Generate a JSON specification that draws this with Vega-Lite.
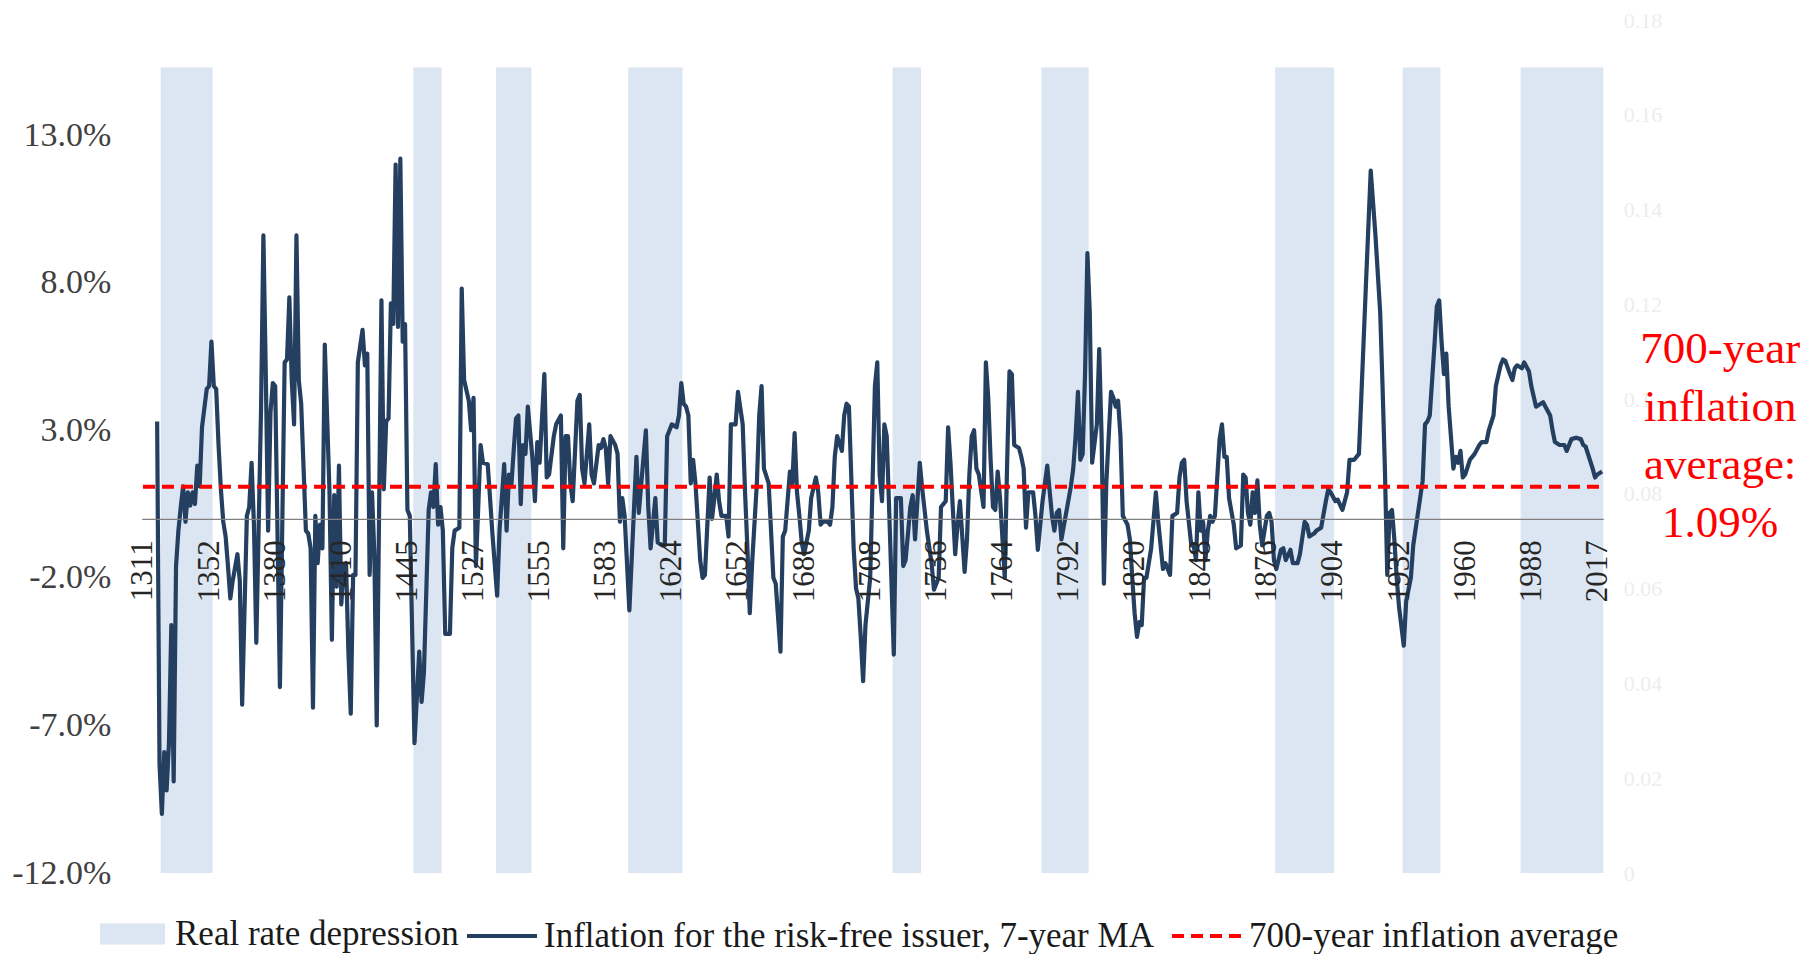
{
"$schema":"https://vega.github.io/schema/vega-lite/v6.json",
"width":1461.5,"height":853,
"autosize":{"type":"none"},
"padding":{"left":141.8,"top":20,"right":204.7,"bottom":81},
"background":"white",
"config":{"view":{"stroke":null},"font":"Liberation Serif","axis":{"grid":false,"title":null}},
"datasets":{
"bands":[{"start":7.5,"end":29.5,"h":0.17},{"start":114.5,"end":126.5,"h":0.17},{"start":149.5,"end":164.5,"h":0.17},{"start":205.5,"end":228.5,"h":0.17},{"start":317.5,"end":329.5,"h":0.17},{"start":380.5,"end":400.5,"h":0.17},{"start":479.5,"end":504.5,"h":0.17},{"start":533.5,"end":549.5,"h":0.17},{"start":583.5,"end":618.5,"h":0.17}],
"series":[{"i":6,"v":3.3},{"i":7,"v":-8.3},{"i":8,"v":-10.0},{"i":9,"v":-7.9},{"i":10,"v":-9.2},{"i":11,"v":-7.6},{"i":12,"v":-3.6},{"i":13,"v":-8.9},{"i":14,"v":-1.6},{"i":15,"v":-0.4},{"i":16,"v":0.4},{"i":17,"v":1.1},{"i":18,"v":-0.1},{"i":19,"v":0.9},{"i":20,"v":0.45},{"i":21,"v":0.9},{"i":22,"v":0.5},{"i":23,"v":1.8},{"i":24,"v":1.1},{"i":25,"v":3.1},{"i":27,"v":4.4},{"i":28,"v":4.5},{"i":29,"v":6.0},{"i":30,"v":4.5},{"i":31,"v":4.4},{"i":32,"v":2.5},{"i":33,"v":1.0},{"i":34,"v":-0.1},{"i":35,"v":-0.6},{"i":36,"v":-1.6},{"i":37,"v":-2.7},{"i":38,"v":-2.1},{"i":40,"v":-1.2},{"i":41,"v":-2.1},{"i":42,"v":-6.3},{"i":44,"v":0.1},{"i":45,"v":0.4},{"i":46,"v":1.9},{"i":47,"v":-0.2},{"i":48,"v":-4.2},{"i":50,"v":3.7},{"i":51,"v":9.6},{"i":52,"v":5.0},{"i":53,"v":-0.4},{"i":54,"v":3.6},{"i":55,"v":4.6},{"i":56,"v":4.5},{"i":58,"v":-5.7},{"i":60,"v":5.3},{"i":61,"v":5.4},{"i":62,"v":7.5},{"i":63,"v":4.7},{"i":64,"v":3.2},{"i":65,"v":9.6},{"i":66,"v":4.7},{"i":67,"v":3.9},{"i":69,"v":-0.4},{"i":70,"v":-0.5},{"i":71,"v":-1.0},{"i":72,"v":-6.4},{"i":73,"v":0.1},{"i":74,"v":-1.5},{"i":75,"v":-0.2},{"i":76,"v":-1.0},{"i":77,"v":5.9},{"i":79,"v":0.9},{"i":80,"v":-4.1},{"i":81,"v":0.8},{"i":82,"v":-2.3},{"i":83,"v":1.8},{"i":84,"v":-2.9},{"i":85,"v":-1.6},{"i":86,"v":-1.5},{"i":87,"v":-4.5},{"i":88,"v":-6.6},{"i":89,"v":-1.9},{"i":90,"v":-1.9},{"i":91,"v":5.3},{"i":93,"v":6.4},{"i":94,"v":5.2},{"i":95,"v":5.6},{"i":96,"v":-1.9},{"i":97,"v":0.9},{"i":98,"v":-1.2},{"i":99,"v":-7.0},{"i":101,"v":7.4},{"i":102,"v":1.0},{"i":103,"v":3.3},{"i":104,"v":3.4},{"i":105,"v":7.3},{"i":106,"v":6.6},{"i":107,"v":12.0},{"i":108,"v":6.5},{"i":109,"v":12.2},{"i":110,"v":6.0},{"i":111,"v":6.6},{"i":112,"v":0.3},{"i":113,"v":0.1},{"i":114,"v":-3.8},{"i":115,"v":-7.6},{"i":117,"v":-4.5},{"i":118,"v":-6.2},{"i":119,"v":-5.2},{"i":121,"v":0.3},{"i":122,"v":0.9},{"i":123,"v":0.4},{"i":124,"v":1.85},{"i":125,"v":-0.2},{"i":126,"v":0.4},{"i":127,"v":-0.4},{"i":128,"v":-3.9},{"i":130,"v":-3.9},{"i":131,"v":-1.0},{"i":132,"v":-0.4},{"i":134,"v":-0.3},{"i":135,"v":7.8},{"i":136,"v":4.7},{"i":138,"v":4.0},{"i":139,"v":3.0},{"i":140,"v":4.1},{"i":141,"v":-1.6},{"i":142,"v":0.4},{"i":143,"v":2.5},{"i":144,"v":1.9},{"i":146,"v":1.85},{"i":147,"v":0.7},{"i":148,"v":-0.5},{"i":150,"v":-2.6},{"i":151,"v":-0.4},{"i":153,"v":1.85},{"i":154,"v":-0.4},{"i":155,"v":1.5},{"i":156,"v":1.1},{"i":157,"v":2.3},{"i":158,"v":3.4},{"i":159,"v":3.5},{"i":160,"v":0.5},{"i":161,"v":2.5},{"i":162,"v":2.2},{"i":163,"v":3.8},{"i":165,"v":2.0},{"i":166,"v":0.6},{"i":167,"v":2.6},{"i":168,"v":1.9},{"i":170,"v":4.9},{"i":171,"v":1.4},{"i":172,"v":1.5},{"i":174,"v":2.8},{"i":175,"v":3.2},{"i":177,"v":3.5},{"i":178,"v":-1.0},{"i":179,"v":2.8},{"i":180,"v":2.8},{"i":181,"v":1.2},{"i":182,"v":0.6},{"i":184,"v":4.0},{"i":185,"v":4.2},{"i":186,"v":1.7},{"i":187,"v":1.2},{"i":189,"v":3.2},{"i":190,"v":1.5},{"i":191,"v":1.2},{"i":193,"v":2.5},{"i":194,"v":2.4},{"i":195,"v":2.7},{"i":196,"v":2.4},{"i":197,"v":1.2},{"i":198,"v":2.8},{"i":200,"v":2.5},{"i":201,"v":2.2},{"i":202,"v":-0.1},{"i":203,"v":0.7},{"i":204,"v":0.1},{"i":206,"v":-3.1},{"i":208,"v":0.4},{"i":209,"v":2.1},{"i":210,"v":0.2},{"i":212,"v":2.1},{"i":213,"v":3.0},{"i":214,"v":0.4},{"i":215,"v":-1.0},{"i":217,"v":0.7},{"i":218,"v":-0.8},{"i":220,"v":-0.9},{"i":221,"v":-0.9},{"i":222,"v":2.8},{"i":223,"v":3.0},{"i":224,"v":3.2},{"i":226,"v":3.1},{"i":227,"v":3.5},{"i":228,"v":4.6},{"i":229,"v":3.9},{"i":230,"v":3.8},{"i":231,"v":3.5},{"i":232,"v":1.2},{"i":233,"v":2.0},{"i":234,"v":1.2},{"i":236,"v":-1.4},{"i":237,"v":-2.0},{"i":238,"v":-1.9},{"i":240,"v":1.4},{"i":241,"v":0.0},{"i":242,"v":0.7},{"i":243,"v":1.5},{"i":244,"v":0.6},{"i":245,"v":0.1},{"i":247,"v":0.1},{"i":248,"v":-0.6},{"i":249,"v":3.2},{"i":250,"v":3.2},{"i":251,"v":3.2},{"i":252,"v":4.3},{"i":254,"v":3.2},{"i":255,"v":0.9},{"i":256,"v":-1.0},{"i":257,"v":-3.2},{"i":258,"v":-1.5},{"i":260,"v":1.2},{"i":261,"v":3.5},{"i":262,"v":4.5},{"i":263,"v":1.7},{"i":265,"v":1.2},{"i":267,"v":-2.0},{"i":268,"v":-2.2},{"i":270,"v":-4.5},{"i":271,"v":-0.6},{"i":272,"v":-0.4},{"i":273,"v":0.6},{"i":274,"v":1.6},{"i":275,"v":1.2},{"i":276,"v":2.9},{"i":277,"v":0.9},{"i":278,"v":0.1},{"i":279,"v":-0.8},{"i":280,"v":-1.2},{"i":282,"v":-0.4},{"i":283,"v":0.7},{"i":285,"v":1.4},{"i":286,"v":0.9},{"i":287,"v":-0.2},{"i":288,"v":-0.1},{"i":290,"v":-0.1},{"i":291,"v":-0.2},{"i":292,"v":0.4},{"i":293,"v":2.1},{"i":294,"v":2.8},{"i":296,"v":2.3},{"i":297,"v":3.5},{"i":298,"v":3.9},{"i":299,"v":3.8},{"i":301,"v":-1.0},{"i":302,"v":-2.35},{"i":303,"v":-2.7},{"i":304,"v":-4.0},{"i":305,"v":-5.5},{"i":306,"v":-3.6},{"i":308,"v":-2.0},{"i":309,"v":1.2},{"i":310,"v":4.5},{"i":311,"v":5.3},{"i":312,"v":1.5},{"i":313,"v":0.6},{"i":314,"v":3.2},{"i":315,"v":2.8},{"i":316,"v":0.4},{"i":318,"v":-4.6},{"i":319,"v":0.7},{"i":321,"v":0.7},{"i":322,"v":-1.6},{"i":323,"v":-1.4},{"i":325,"v":0.4},{"i":326,"v":0.8},{"i":327,"v":-0.7},{"i":329,"v":1.9},{"i":330,"v":1.05},{"i":332,"v":-0.4},{"i":334,"v":-1.5},{"i":335,"v":-2.4},{"i":337,"v":-2.0},{"i":338,"v":0.4},{"i":340,"v":0.6},{"i":341,"v":3.1},{"i":342,"v":1.9},{"i":344,"v":-1.2},{"i":345,"v":-0.2},{"i":346,"v":0.6},{"i":348,"v":-1.8},{"i":349,"v":-0.7},{"i":350,"v":1.5},{"i":351,"v":2.8},{"i":352,"v":3.0},{"i":353,"v":1.7},{"i":354,"v":1.5},{"i":356,"v":0.4},{"i":357,"v":5.3},{"i":358,"v":4.1},{"i":359,"v":2.0},{"i":360,"v":0.4},{"i":361,"v":0.3},{"i":362,"v":1.6},{"i":363,"v":0.7},{"i":365,"v":-2.0},{"i":366,"v":1.9},{"i":367,"v":5.0},{"i":368,"v":4.9},{"i":369,"v":2.5},{"i":371,"v":2.4},{"i":372,"v":2.1},{"i":373,"v":1.7},{"i":374,"v":-0.3},{"i":375,"v":0.9},{"i":377,"v":0.9},{"i":378,"v":0.1},{"i":379,"v":-1.05},{"i":381,"v":0.6},{"i":383,"v":1.8},{"i":385,"v":0.1},{"i":386,"v":-0.4},{"i":387,"v":0.2},{"i":388,"v":0.3},{"i":389,"v":-0.7},{"i":391,"v":0.2},{"i":393,"v":1.1},{"i":394,"v":1.7},{"i":395,"v":2.8},{"i":396,"v":4.3},{"i":397,"v":2.0},{"i":398,"v":2.2},{"i":399,"v":4.9},{"i":400,"v":9.0},{"i":401,"v":7.0},{"i":402,"v":1.9},{"i":404,"v":3.2},{"i":405,"v":5.75},{"i":406,"v":2.8},{"i":407,"v":-2.2},{"i":408,"v":1.2},{"i":410,"v":4.3},{"i":411,"v":4.1},{"i":412,"v":3.8},{"i":413,"v":4.0},{"i":414,"v":2.8},{"i":415,"v":0.1},{"i":417,"v":-0.2},{"i":418,"v":-0.7},{"i":419,"v":-2.0},{"i":420,"v":-3.2},{"i":421,"v":-4.0},{"i":422,"v":-3.5},{"i":423,"v":-3.6},{"i":424,"v":-2.0},{"i":425,"v":-2.0},{"i":427,"v":-1.0},{"i":429,"v":0.9},{"i":430,"v":-0.1},{"i":432,"v":-1.7},{"i":433,"v":-1.5},{"i":435,"v":-1.9},{"i":436,"v":0.1},{"i":438,"v":0.2},{"i":439,"v":1.4},{"i":440,"v":1.9},{"i":441,"v":2.0},{"i":442,"v":0.6},{"i":444,"v":-0.9},{"i":445,"v":-0.9},{"i":446,"v":-1.4},{"i":447,"v":0.9},{"i":448,"v":-0.4},{"i":449,"v":-0.1},{"i":450,"v":-1.4},{"i":451,"v":-0.4},{"i":452,"v":0.1},{"i":453,"v":-0.1},{"i":454,"v":0.1},{"i":456,"v":2.7},{"i":457,"v":3.2},{"i":458,"v":2.1},{"i":459,"v":2.1},{"i":460,"v":0.7},{"i":462,"v":-0.2},{"i":463,"v":-1.0},{"i":465,"v":-0.9},{"i":466,"v":1.5},{"i":467,"v":1.4},{"i":468,"v":0.2},{"i":469,"v":-0.2},{"i":470,"v":0.9},{"i":471,"v":0.2},{"i":472,"v":1.3},{"i":473,"v":-0.2},{"i":474,"v":-0.9},{"i":476,"v":0.1},{"i":477,"v":0.2},{"i":478,"v":-0.1},{"i":479,"v":-1.4},{"i":480,"v":-1.7},{"i":482,"v":-1.05},{"i":483,"v":-1.0},{"i":484,"v":-1.4},{"i":486,"v":-1.05},{"i":487,"v":-1.5},{"i":489,"v":-1.5},{"i":490,"v":-1.2},{"i":492,"v":-0.1},{"i":493,"v":-0.2},{"i":494,"v":-0.6},{"i":496,"v":-0.5},{"i":497,"v":-0.4},{"i":499,"v":-0.3},{"i":501,"v":0.6},{"i":502,"v":1.0},{"i":503,"v":0.9},{"i":505,"v":0.6},{"i":506,"v":0.65},{"i":508,"v":0.3},{"i":509,"v":0.6},{"i":510,"v":0.9},{"i":511,"v":2.0},{"i":513,"v":2.0},{"i":515,"v":2.2},{"i":516,"v":4.1},{"i":518,"v":8.0},{"i":520,"v":11.8},{"i":522,"v":9.6},{"i":524,"v":7.0},{"i":525,"v":4.5},{"i":526,"v":1.7},{"i":527,"v":-1.9},{"i":528,"v":0.2},{"i":529,"v":0.3},{"i":530,"v":-0.7},{"i":531,"v":-2.0},{"i":532,"v":-3.0},{"i":534,"v":-4.3},{"i":535,"v":-2.8},{"i":537,"v":-2.0},{"i":538,"v":-0.9},{"i":542,"v":1.3},{"i":543,"v":3.2},{"i":544,"v":3.3},{"i":545,"v":3.5},{"i":547,"v":5.9},{"i":548,"v":7.2},{"i":549,"v":7.4},{"i":550,"v":6.0},{"i":551,"v":4.9},{"i":552,"v":5.6},{"i":553,"v":3.8},{"i":555,"v":1.7},{"i":556,"v":2.1},{"i":557,"v":1.9},{"i":558,"v":2.3},{"i":559,"v":1.4},{"i":560,"v":1.5},{"i":562,"v":2.0},{"i":563,"v":2.1},{"i":564,"v":2.2},{"i":566,"v":2.5},{"i":567,"v":2.6},{"i":569,"v":2.6},{"i":570,"v":3.0},{"i":572,"v":3.5},{"i":573,"v":4.5},{"i":575,"v":5.2},{"i":576,"v":5.4},{"i":577,"v":5.35},{"i":579,"v":4.9},{"i":580,"v":4.7},{"i":581,"v":5.1},{"i":582,"v":5.2},{"i":584,"v":5.1},{"i":585,"v":5.3},{"i":587,"v":5.0},{"i":588,"v":4.5},{"i":590,"v":3.8},{"i":591,"v":3.85},{"i":593,"v":3.95},{"i":594,"v":3.8},{"i":596,"v":3.5},{"i":597,"v":3.0},{"i":598,"v":2.6},{"i":600,"v":2.5},{"i":602,"v":2.5},{"i":603,"v":2.3},{"i":605,"v":2.7},{"i":607,"v":2.75},{"i":609,"v":2.7},{"i":610,"v":2.5},{"i":611,"v":2.45},{"i":612,"v":2.2},{"i":614,"v":1.7},{"i":615,"v":1.4},{"i":616,"v":1.5},{"i":618,"v":1.6}],
"avg":[{"i":0,"v":1.09},{"i":618,"v":1.09}],
"note":[{"i":668,"v":5.75,"label":"700-year inflation average: 1.09%"}]
},
"layer":[
{"data":{"name":"bands"},
 "mark":{"type":"rect"},
 "encoding":{
  "x":{"field":"start","type":"quantitative","scale":{"domain":[-0.5,618.5],"nice":false,"zero":false}},
  "x2":{"field":"end"},
  "y":{"field":"h","type":"quantitative","scale":{"domain":[0,0.18],"nice":false,"zero":false},
       "axis":{"orient":"right","values":[0,0.02,0.04,0.06,0.08,0.1,0.12,0.14,0.16,0.18],"format":"~g","labelColor":"#ededed","labelFontSize":22,"labelFont":"Liberation Serif","domain":false,"ticks":false,"tickSize":0,"grid":false,"labelPadding":20,"title":null,"labelAlign":"left"}},
  "y2":{"datum":0},
  "fill":{"datum":"Real rate depression","scale":{"domain":["Real rate depression"],"range":["#dce6f2"]},
    "legend":{"orient":"none","legendX":-44.3,"legendY":879,"title":null,"padding":0,"symbolType":"M-0.93,-0.3H0.93V0.3H-0.93Z","symbolSize":4900,"symbolStrokeWidth":0,"labelFont":"Liberation Serif","labelFontSize":35,"labelColor":"#1a1a1a","labelOffset":7.5,"labelLimit":2000}}
 }
},
{"layer":[
 {"data":{"name":"series"},
  "mark":{"type":"line","strokeWidth":4.2,"strokeJoin":"round"},
  "encoding":{
   "x":{"field":"i","type":"quantitative","scale":{"domain":[-0.5,618.5],"nice":false,"zero":false},
        "axis":{"orient":"bottom","offset":-354.2,"values":[0,28,56,84,112,140,168,196,224,252,280,308,336,364,392,420,448,476,504,532,560,588,616],
        "labelExpr":"['1311','1352','1380','1410','1445','1527','1555','1583','1624','1652','1680','1708','1736','1764','1792','1820','1848','1876','1904','1932','1960','1988','2017'][round(datum.value/28)]",
        "labelAngle":270,"labelAlign":"right","labelBaseline":"middle","labelFontSize":31,"labelFont":"Liberation Serif","labelColor":"#262626","labelPadding":21,"ticks":false,"tickSize":0,"domain":true,"domainColor":"#7f7f7f","domainWidth":1.2,"grid":false,"title":null,"zindex":1,"labelOverlap":false,"labelBound":false,"labelFlush":false}},
   "y":{"field":"v","type":"quantitative","scale":{"domain":[-12,16.9],"nice":false,"zero":false},
        "axis":{"orient":"left","values":[-12,-7,-2,3,8,13],"labelExpr":"(datum.value < 0 ? '-' : '') + format(abs(datum.value), '.1f') + '%'","labelFontSize":34,"labelFont":"Liberation Serif","labelColor":"#404040","domain":false,"ticks":false,"tickSize":0,"grid":false,"labelPadding":31,"title":null}},
   "stroke":{"datum":"Inflation for the risk-free issuer, 7-year MA","scale":{"domain":["Inflation for the risk-free issuer, 7-year MA"],"range":["#243f60"]},
     "legend":{"orient":"none","legendX":323.2,"legendY":879,"title":null,"padding":0,"symbolType":"stroke","symbolSize":4900,"symbolStrokeWidth":4,"labelFont":"Liberation Serif","labelFontSize":35,"labelColor":"#1a1a1a","labelOffset":5,"labelLimit":2000}}
  }},
 {"data":{"name":"avg"},
  "mark":{"type":"line","strokeWidth":4,"color":"#ff0000"},
  "encoding":{
   "x":{"field":"i","type":"quantitative","scale":{"domain":[-0.5,618.5],"nice":false,"zero":false}},
   "y":{"field":"v","type":"quantitative","scale":{"domain":[-12,16.9],"nice":false,"zero":false}},
   "strokeDash":{"datum":"700-year inflation average","scale":{"domain":["700-year inflation average"],"range":[[12,7]]},
     "legend":{"orient":"none","legendX":1028.2,"legendY":879,"title":null,"padding":0,"symbolType":"stroke","symbolSize":4900,"symbolStrokeWidth":4,"symbolStrokeColor":"#ff0000","labelFont":"Liberation Serif","labelFontSize":35,"labelColor":"#1a1a1a","labelOffset":5,"labelLimit":2000}}
  }},
 {"data":{"name":"note"},
  "mark":{"type":"text","align":"center","baseline":"middle","fontSize":45,"lineHeight":58,"lineBreak":" ","color":"#ff0000","font":"Liberation Serif"},
  "encoding":{
   "x":{"field":"i","type":"quantitative","scale":{"domain":[-0.5,618.5],"nice":false,"zero":false}},
   "y":{"field":"v","type":"quantitative","scale":{"domain":[-12,16.9],"nice":false,"zero":false}},
   "text":{"field":"label"}
  }}
]}
],
"resolve":{"scale":{"y":"independent"}}
}
